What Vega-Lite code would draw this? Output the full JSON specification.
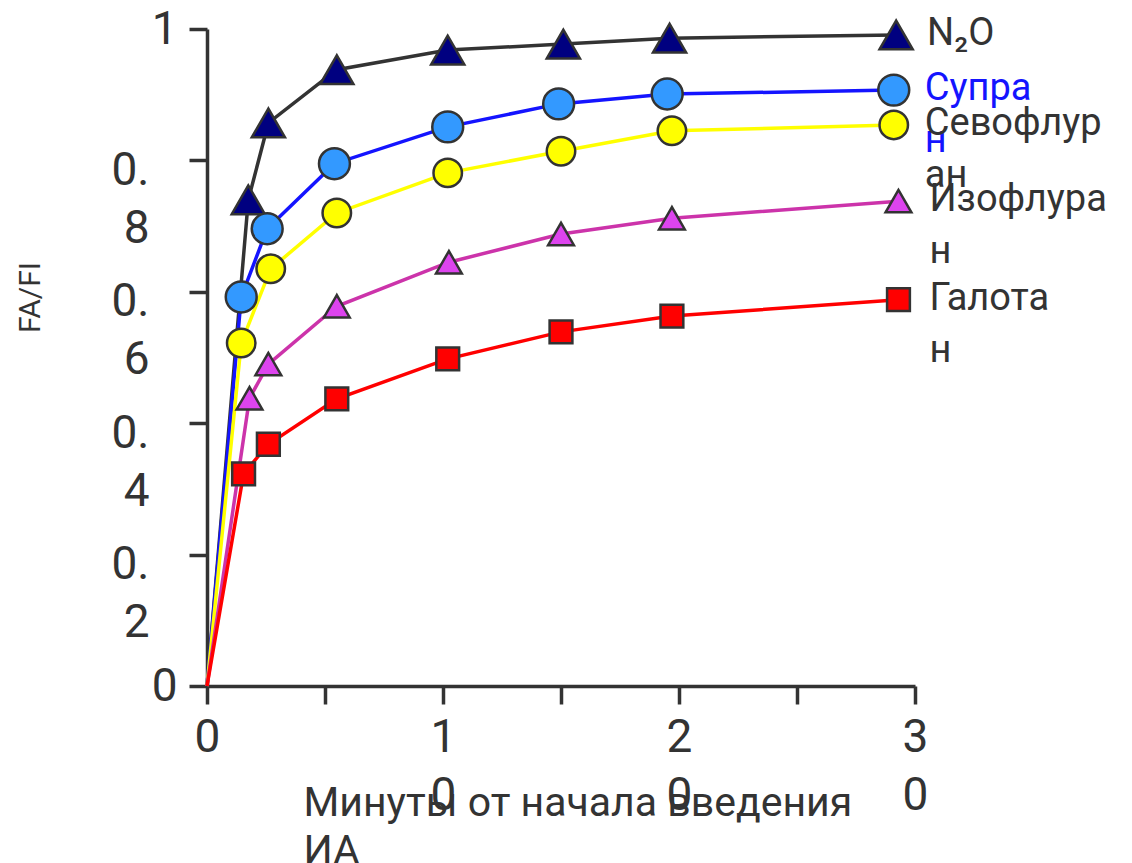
{
  "$schema": "https://vega.github.io/schema/vega-lite/v6.json",
  "width": 708,
  "height": 657,
  "autosize": {"type": "none"},
  "padding": {"left": 207, "top": 29, "right": 217, "bottom": 177},
  "background": "white",
  "config": {
    "view": {"stroke": null},
    "font": "Roboto",
    "axis": {
      "domainColor": "#333333",
      "domainWidth": 3.5,
      "tickColor": "#333333",
      "tickWidth": 3.5,
      "tickSize": 18,
      "grid": false,
      "labelColor": "#333333",
      "labelFont": "Roboto",
      "labelFontSize": 46,
      "labelOverlap": false,
      "labelBound": false,
      "labelFlush": false,
      "labelLineHeight": 58,
      "titleColor": "#333333",
      "titleFont": "Roboto",
      "titleFontWeight": "normal"
    }
  },
  "datasets": {
    "curves": [
      {"agent": "N2O", "t": 0, "v": 0},
      {"agent": "N2O", "t": 1.75, "v": 0.74},
      {"agent": "N2O", "t": 2.6, "v": 0.857},
      {"agent": "N2O", "t": 5.5, "v": 0.938},
      {"agent": "N2O", "t": 10.2, "v": 0.968},
      {"agent": "N2O", "t": 15.1, "v": 0.977},
      {"agent": "N2O", "t": 19.6, "v": 0.986},
      {"agent": "N2O", "t": 29.2, "v": 0.991},
      {"agent": "Supran", "t": 0, "v": 0},
      {"agent": "Supran", "t": 1.45, "v": 0.592},
      {"agent": "Supran", "t": 2.55, "v": 0.696},
      {"agent": "Supran", "t": 5.4, "v": 0.795},
      {"agent": "Supran", "t": 10.2, "v": 0.851},
      {"agent": "Supran", "t": 14.9, "v": 0.886},
      {"agent": "Supran", "t": 19.5, "v": 0.901},
      {"agent": "Supran", "t": 29.1, "v": 0.907},
      {"agent": "Sevo", "t": 0, "v": 0},
      {"agent": "Sevo", "t": 1.45, "v": 0.522},
      {"agent": "Sevo", "t": 2.7, "v": 0.635},
      {"agent": "Sevo", "t": 5.5, "v": 0.72},
      {"agent": "Sevo", "t": 10.2, "v": 0.781},
      {"agent": "Sevo", "t": 15.0, "v": 0.814},
      {"agent": "Sevo", "t": 19.7, "v": 0.845},
      {"agent": "Sevo", "t": 29.1, "v": 0.854},
      {"agent": "Iso", "t": 0, "v": 0},
      {"agent": "Iso", "t": 1.8, "v": 0.438},
      {"agent": "Iso", "t": 2.6, "v": 0.49},
      {"agent": "Iso", "t": 5.5, "v": 0.578},
      {"agent": "Iso", "t": 10.25, "v": 0.645},
      {"agent": "Iso", "t": 15.0, "v": 0.688},
      {"agent": "Iso", "t": 19.7, "v": 0.712},
      {"agent": "Iso", "t": 29.3, "v": 0.738},
      {"agent": "Halo", "t": 0, "v": 0},
      {"agent": "Halo", "t": 1.55, "v": 0.323},
      {"agent": "Halo", "t": 2.6, "v": 0.368},
      {"agent": "Halo", "t": 5.5, "v": 0.437},
      {"agent": "Halo", "t": 10.2, "v": 0.498},
      {"agent": "Halo", "t": 15.0, "v": 0.539},
      {"agent": "Halo", "t": 19.7, "v": 0.563},
      {"agent": "Halo", "t": 29.3, "v": 0.588}
    ],
    "labels": [
      {"agent": "N2O", "t": 29.2, "v": 0.991, "label": "N₂O"},
      {"agent": "Supran", "t": 29.1, "v": 0.907, "label": "Супра\nн"},
      {"agent": "Sevo", "t": 29.1, "v": 0.854, "label": "Севофлур\nан"},
      {"agent": "Iso", "t": 29.3, "v": 0.738, "label": "Изофлура\nн"},
      {"agent": "Halo", "t": 29.3, "v": 0.588, "label": "Галота\nн"}
    ]
  },
  "layer": [
    {
      "data": {"name": "curves"},
      "mark": {"type": "line", "strokeWidth": 3.5},
      "encoding": {
        "x": {
          "field": "t",
          "type": "quantitative",
          "scale": {"domain": [0, 30], "nice": false, "zero": false},
          "axis": {
            "values": [0, 5, 10, 15, 20, 25, 30],
            "labelExpr": "datum.value == 0 ? '0' : (datum.value % 10 == 0 ? [slice(format(datum.value, 'd'), 0, 1), slice(format(datum.value, 'd'), 1)] : '')",
            "labelPadding": 11,
            "labelBaseline": "top",
            "title": ["Минуты от начала введения", "ИА"],
            "titleFontSize": 41,
            "titleLineHeight": 48,
            "titleAnchor": "start",
            "titleAlign": "left",
            "titleBaseline": "alphabetic",
            "titleX": 96,
            "titleY": 129
          }
        },
        "y": {
          "field": "v",
          "type": "quantitative",
          "scale": {"domain": [0, 1], "nice": false},
          "axis": {
            "values": [0, 0.2, 0.4, 0.6, 0.8, 1],
            "labelExpr": "datum.value == 0 || datum.value == 1 ? format(datum.value, 'd') : ['0.', slice(format(datum.value, '.1f'), 2)]",
            "labelBaseline": "middle",
            "labelPadding": {"condition": {"test": "datum.value > 0 && datum.value < 1", "value": 40}, "value": 12},
            "labelOffset": {"condition": {"test": "datum.value > 0 && datum.value < 1", "value": 10}, "value": 0},
            "title": "FA/FI",
            "titleFontSize": 30,
            "titleAngle": -90,
            "titleX": -177,
            "titleY": 268,
            "titleAlign": "center",
            "titleBaseline": "middle"
          }
        },
        "color": {
          "field": "agent",
          "type": "nominal",
          "scale": {
            "domain": ["N2O", "Supran", "Sevo", "Iso", "Halo"],
            "range": ["#333333", "#1414ff", "#ffff00", "#cc33aa", "#ff0000"]
          },
          "legend": null
        }
      }
    },
    {
      "data": {"name": "curves"},
      "transform": [{"filter": "datum.t > 0"}],
      "mark": {"type": "point", "filled": true, "stroke": "#333333", "strokeWidth": 2.5, "opacity": 1},
      "encoding": {
        "x": {"field": "t", "type": "quantitative"},
        "y": {"field": "v", "type": "quantitative"},
        "fill": {
          "field": "agent",
          "type": "nominal",
          "scale": {
            "domain": ["N2O", "Supran", "Sevo", "Iso", "Halo"],
            "range": ["#000080", "#3399ff", "#ffff00", "#dd44ee", "#ff0000"]
          },
          "legend": null
        },
        "shape": {
          "field": "agent",
          "type": "nominal",
          "scale": {
            "domain": ["N2O", "Supran", "Sevo", "Iso", "Halo"],
            "range": ["triangle-up", "circle", "circle", "triangle-up", "square"]
          },
          "legend": null
        },
        "size": {
          "field": "agent",
          "type": "nominal",
          "scale": {
            "domain": ["N2O", "Supran", "Sevo", "Iso", "Halo"],
            "range": [1100, 520, 520, 1100, 480]
          },
          "legend": null
        }
      }
    },
    {
      "data": {"name": "labels"},
      "mark": {"type": "text", "align": "left", "baseline": "alphabetic", "dx": 31, "dy": 10, "fontSize": 38, "lineBreak": "\n", "lineHeight": 52},
      "encoding": {
        "x": {"field": "t", "type": "quantitative"},
        "y": {"field": "v", "type": "quantitative"},
        "text": {"field": "label"},
        "color": {
          "condition": {"test": "datum.agent == 'Supran'", "value": "#1414ff"},
          "value": "#333333"
        }
      }
    }
  ]
}
